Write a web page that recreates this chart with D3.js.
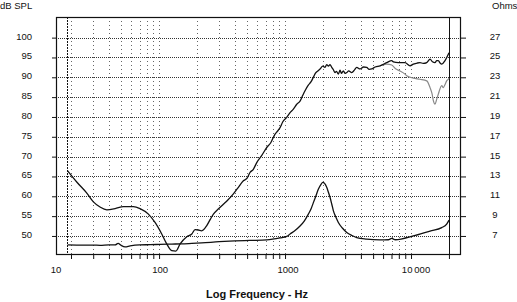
<!DOCTYPE html>
<html><head><meta charset="utf-8">
<script src="https://cdn.jsdelivr.net/npm/d3@7"></script>
<style>body{margin:0;background:#fff}svg{display:block}text{font-family:"Liberation Sans",Arial,sans-serif;fill:#111}</style>
</head><body><svg id="c" width="517" height="302"></svg>
<script>
// ---- data ----
const dbTicks = [50,55,60,65,70,75,80,85,90,95,100];
const ohmTicks = [7,9,11,13,15,17,19,21,23,25,27];
const freqGrid = [20,30,40,50,60,70,80,90,100,200,300,400,500,600,700,800,900,1000,2000,3000,4000,5000,6000,7000,8000,9000,10000];
const freqLabels = [{f:15.2,t:"10"},{f:100,t:"100"},{f:1000,t:"1000"},{f:10000,t:"10\u2009000"}];
const markerFreq = 18.7;   // start-of-measurement dashed marker
const limitFreq = 20000;   // solid line

const splFreq = [18.8,22.2,26.7,30.1,34,38.5,44.8,52.1,62.5,70.6,82.3,92.9,105,115,126,136,147,166,182,193,205,218,239,255,270,295,324,350,389,420,467,500,527,560,596,650,716,770,833,870,913,960,1031,1096,1160,1239,1315,1380,1441,1530,1610,1678,1750,1820,1896,1990,2076,2142,2210,2275,2350,2420,2493,2560,2650,2733,2800,2902,3000,3090,3200,3384,3550,3707,3938,4200,4449,4650,4877,5200,5675,6412,7026,7240,7930,8960,9820,10430,11200,11780,12500,13330,14160,14800,15500,16000,16480,17000,17530,18620,19770,20030];
const splDb = [66.4,63.6,60.8,58.6,57.3,56.6,56.9,57.4,57.4,56.9,55.5,53.4,50.5,48.0,46.3,46.2,48.0,49.8,50.5,51.6,51.5,51.3,52.6,54.2,55.5,56.8,58.0,59.0,60.6,62.0,63.9,64.6,66.0,66.8,68.5,70.2,72.3,73.5,75.7,76.4,77.3,78.8,79.9,81.1,81.9,83.2,84.0,85.4,86.6,88.0,88.9,90.0,91.1,91.6,92.1,92.8,92.5,93.2,92.8,93.2,92.5,91.9,91.2,91.5,90.8,91.8,91.0,91.6,91.0,91.2,91.6,91.2,91.8,92.5,92.1,92.6,92.5,92.0,92.1,92.6,92.9,93.7,94.2,93.9,93.7,93.7,92.9,93.3,93.6,93.7,93.5,93.7,94.6,93.9,93.7,94.2,94.2,93.6,93.3,94.2,95.8,96.2];

const offFreq = [5675,6412,7026,7500,8180,8960,9240,10430,11780,13330,14160,14700,15040,15500,16000,16480,17530,18040,18620,19190,19770,20030];
const offDb = [92.9,93.3,93.1,92.2,91.6,90.8,90.4,89.8,89.5,89.1,87.4,85.8,84.1,83.2,84.5,85.8,87.9,87.4,88.2,89.1,89.5,89.8];

const impFreq = [18.8,25,30,34,40,44.8,47.3,50,53.7,58.9,70,85,102,126,150,182,218,300,400,527,716,913,1031,1096,1200,1315,1420,1531,1610,1678,1760,1837,1930,1991,2060,2142,2210,2275,2350,2417,2530,2649,2850,3090,3400,3707,4449,5675,6600,7026,7500,10430,14160,17530,19190,20030];
const impOhm = [6.1,6.08,6.08,6.06,6.1,6.1,6.25,6.05,5.9,6.0,6.1,6.12,6.15,6.18,6.2,6.25,6.3,6.42,6.5,6.55,6.6,6.8,6.95,7.2,7.55,8.0,8.5,9.2,9.75,10.36,11.05,11.7,12.2,12.4,12.3,11.9,11.4,10.9,10.2,9.56,8.9,8.36,7.8,7.36,7.05,6.84,6.68,6.6,6.62,6.75,6.62,7.0,7.5,7.84,8.2,8.6];

// ---- layout ----
const L=56,R=461,T=17,B=255;
const svg = d3.select("#c");
const x = d3.scaleLog().domain([15.2,24930]).range([L,R]);
const y = d3.scaleLinear().domain([45.2,105.2]).range([B,T]);
const yo = d3.scaleLinear().domain([5.08,29.08]).range([B,T]);

// horizontal grid
svg.append("g").selectAll("line").data(dbTicks).join("line")
  .attr("x1",L).attr("x2",R).attr("y1",d=>Math.round(y(d))+0.5).attr("y2",d=>Math.round(y(d))+0.5)
  .attr("stroke","#333").attr("stroke-width",1).attr("stroke-dasharray","1,1");
// vertical grid
svg.append("g").selectAll("line").data(freqGrid).join("line")
  .attr("x1",d=>Math.round(x(d))+0.5).attr("x2",d=>Math.round(x(d))+0.5).attr("y1",T).attr("y2",B)
  .attr("stroke","#666").attr("stroke-width",1).attr("stroke-dasharray","1,3");
// dashed marker
svg.append("line").attr("x1",Math.round(x(markerFreq))+0.5).attr("x2",Math.round(x(markerFreq))+0.5)
  .attr("y1",T).attr("y2",B).attr("stroke","#111").attr("stroke-dasharray","2,1");
// limit line
svg.append("line").attr("x1",Math.round(x(limitFreq))+0.5).attr("x2",Math.round(x(limitFreq))+0.5)
  .attr("y1",T).attr("y2",B).attr("stroke","#111");
// frame
svg.append("rect").attr("x",L+0.5).attr("y",T+0.5).attr("width",R-L-1).attr("height",B-T-1)
  .attr("fill","none").attr("stroke","#111").attr("stroke-width",1.2);

// axes
const gL = svg.append("g").attr("transform",`translate(${L},0)`)
  .call(d3.axisLeft(y).tickValues(dbTicks).tickSize(4).tickPadding(20).tickFormat(d3.format("d")));
const gR = svg.append("g").attr("transform",`translate(${R},0)`)
  .call(d3.axisRight(yo).tickValues(ohmTicks).tickSize(5).tickPadding(29).tickFormat(d3.format("d")));
const gB = svg.append("g").attr("transform",`translate(0,${B})`)
  .call(d3.axisBottom(x).tickValues(freqGrid.concat([limitFreq])).tickSize(4).tickFormat(""));
[gL,gR,gB].forEach(g=>{g.select(".domain").remove();g.selectAll("line").attr("stroke","#111");});
gL.selectAll("text").attr("font-size",9.5).attr("dy","0.15em");
gR.selectAll("text").attr("font-size",9.5).attr("text-anchor","middle").attr("dy","0.15em");
svg.append("g").selectAll("text").data(freqLabels).join("text")
  .attr("x",d=>x(d.f)+ (d.f===100?1:d.f===1000?3:d.f===10000?5:0)).attr("y",273)
  .attr("text-anchor","middle").attr("font-size",9.5).text(d=>d.t);

svg.append("text").attr("x",0).attr("y",9).attr("font-size",9.5).text("dB SPL");
svg.append("text").attr("x",492).attr("y",9).attr("font-size",9.5).text("Ohms");
svg.append("text").attr("x",257).attr("y",298).attr("text-anchor","middle")
  .attr("font-size",11).attr("font-weight","bold").text("Log Frequency - Hz");

// curves
const line = d3.line().curve(d3.curveMonotoneX);
const pts = (fs,vs,sc)=>fs.map((f,i)=>[x(f),sc(vs[i])]);
svg.append("path").attr("d",line(pts(offFreq,offDb,y))).attr("fill","none").attr("stroke","#8a8a8a").attr("stroke-width",1.2);
svg.append("path").attr("d",line(pts(splFreq,splDb,y))).attr("fill","none").attr("stroke","#111").attr("stroke-width",1.3);
svg.append("path").attr("d",line(pts(impFreq,impOhm,yo))).attr("fill","none").attr("stroke","#111").attr("stroke-width",1.3);
</script></body></html>
